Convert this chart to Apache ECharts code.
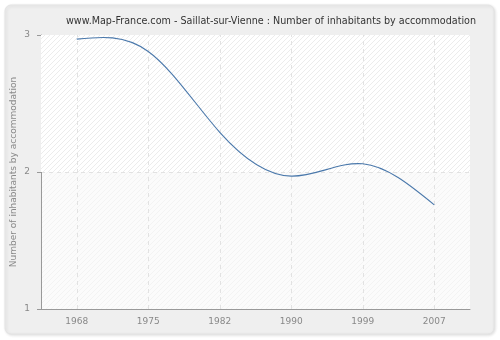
<!DOCTYPE html>
<html>
<head>
<meta charset="utf-8">
<script src="https://cdn.jsdelivr.net/npm/echarts@6/dist/echarts.min.js"></script>
<style>html,body{margin:0;padding:0;background:#fff}#c{width:500px;height:340px}</style>
</head>
<body>
<div id="c"></div>
<script>
const years = ['1968', '1975', '1982', '1990', '1999', '2007'];
const values = [2.97, 2.88, 2.29, 1.97, 2.06, 1.76];
const yTicks = [1, 2, 3];

function hatch(bg, line) {
  const c = document.createElement('canvas');
  c.width = 5; c.height = 5;
  const g = c.getContext('2d');
  g.fillStyle = bg; g.fillRect(0, 0, 5, 5);
  g.strokeStyle = line; g.lineWidth = 1;
  g.beginPath();
  g.moveTo(-1, 6); g.lineTo(6, -1);
  g.moveTo(-1, 1); g.lineTo(1, -1);
  g.moveTo(4, 6); g.lineTo(6, 4);
  g.stroke();
  return {image: c, repeat: 'repeat'};
}

// natural cubic spline drawn in pixel space from the data points via api.coord
function renderSpline(params, api) {
  if (params.dataIndex !== 0) return null;
  const pts = values.map((v, i) => api.coord([i, v]));
  const n = pts.length;
  const h = pts[1][0] - pts[0][0];
  const M = new Array(n).fill(0);
  const a = [], b = [], c = [], d = [];
  for (let i = 1; i < n - 1; i++) {
    a.push(1); b.push(4); c.push(1);
    d.push(6 * (pts[i - 1][1] - 2 * pts[i][1] + pts[i + 1][1]) / (h * h));
  }
  const m = d.length;
  for (let i = 1; i < m; i++) {
    const w = a[i] / b[i - 1];
    b[i] -= w * c[i - 1];
    d[i] -= w * d[i - 1];
  }
  const x = new Array(m);
  x[m - 1] = d[m - 1] / b[m - 1];
  for (let i = m - 2; i >= 0; i--) x[i] = (d[i] - c[i] * x[i + 1]) / b[i];
  for (let i = 0; i < m; i++) M[i + 1] = x[i];
  let path = 'M' + pts[0][0] + ' ' + pts[0][1];
  for (let i = 0; i < n - 1; i++) {
    const y0 = pts[i][1], y1 = pts[i + 1][1];
    const s0 = (y1 - y0) / h - h * (2 * M[i] + M[i + 1]) / 6;
    const s1 = (y1 - y0) / h + h * (M[i] + 2 * M[i + 1]) / 6;
    path += ' C' + (pts[i][0] + h / 3) + ' ' + (y0 + s0 * h / 3) + ' ' +
      (pts[i + 1][0] - h / 3) + ' ' + (y1 - s1 * h / 3) + ' ' +
      pts[i + 1][0] + ' ' + y1;
  }
  return {
    type: 'path',
    shape: {pathData: path},
    style: {fill: null, stroke: '#4a78ab', lineWidth: 1.1}
  };
}

const chart = echarts.init(document.getElementById('c'), null, {renderer: 'canvas'});
chart.setOption({
  animation: false,
  backgroundColor: '#ffffff',
  graphic: [{
    type: 'rect', z: -10, silent: true,
    shape: {x: 5, y: 5, width: 489, height: 329, r: 6},
    style: {fill: '#efefef', stroke: '#e4e4e4', lineWidth: 1,
      shadowColor: 'rgba(0,0,0,0.12)', shadowBlur: 3, shadowOffsetX: 1, shadowOffsetY: 1}
  }],
  title: {
    text: 'www.Map-France.com - Saillat-sur-Vienne : Number of inhabitants by accommodation',
    left: 266, top: 11, textAlign: 'center',
    textStyle: {fontFamily: 'DejaVu Sans', fontSize: 9.6, fontWeight: 'normal', color: '#333'}
  },
  grid: {
    left: 41, right: 30, top: 35, bottom: 31,
    outerBoundsMode: 'none', containLabel: false,
    show: true, backgroundColor: hatch('#fbfbfb', '#f3f3f3'), borderWidth: 0
  },
  xAxis: {
    type: 'category', data: years, boundaryGap: true,
    axisLine: {lineStyle: {color: '#999'}},
    axisTick: {alignWithLabel: true, length: 5, lineStyle: {color: '#999'}},
    axisLabel: {color: '#888', fontFamily: 'DejaVu Sans', fontSize: 9, margin: 8},
    splitLine: {show: false}
  },
  yAxis: {
    type: 'value', min: yTicks[0], max: yTicks[yTicks.length - 1], interval: 1,
    name: 'Number of inhabitants by accommodation', nameLocation: 'middle', nameGap: 23,
    nameMoveOverlap: false,
    nameTextStyle: {color: '#888', fontFamily: 'DejaVu Sans', fontSize: 9},
    axisLine: {show: true, lineStyle: {color: '#999'}},
    axisTick: {show: true, length: 4, lineStyle: {color: '#999'}},
    axisLabel: {color: '#888', fontFamily: 'DejaVu Sans', fontSize: 9, margin: 11},
    splitLine: {show: true, lineStyle: {color: '#e2e2e2', type: [4, 4]}}
  },
  series: [{
    type: 'line', data: values, showSymbol: false, silent: true,
    lineStyle: {opacity: 0},
    markArea: {
      silent: true,
      itemStyle: {color: hatch('#ffffff', '#ececec')},
      data: [[{yAxis: 2}, {yAxis: 3}]]
    },
    markLine: {
      silent: true, symbol: 'none', label: {show: false},
      lineStyle: {color: '#e2e2e2', type: [4, 4], width: 1},
      data: years.map(y => ({xAxis: y}))
    }
  }, {
    type: 'custom', data: values.map((v, i) => [i, v]),
    renderItem: renderSpline, z: 5
  }]
});
</script>
</body>
</html>
